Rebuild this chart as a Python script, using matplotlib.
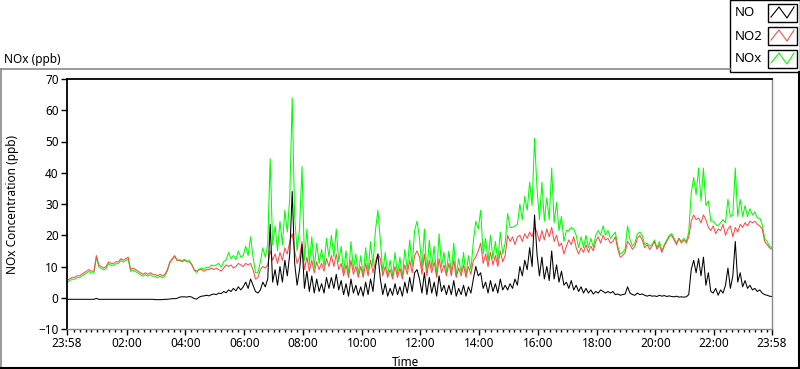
import numpy as np
import matplotlib.pyplot as plt
from matplotlib.lines import Line2D
from matplotlib.patches import Rectangle

plt.rcParams["font.family"] = ["Noto Sans", "DejaVu Sans"]
plt.rcParams["font.size"] = 9


# ==========================
# Data (5 min samples, from 23:58)
# ==========================

STEP_MIN = 5

NO2 = [
    5.5, 6.0, 6.5, 6.5, 7.0, 7.0, 7.5, 8.0, 8.5, 9.0, 8.5, 8.5,
    13.5, 10.5, 10.0, 9.5, 10.0, 11.5, 11.0, 11.0, 11.5, 11.5, 12.5, 12.0,
    12.5, 13.0, 9.0, 9.5, 9.0, 8.5, 8.0, 7.5, 8.0, 7.5, 8.0, 7.5,
    7.5, 7.0, 7.5, 7.0, 7.5, 9.0, 11.5, 12.5, 13.5, 12.0, 12.0, 11.5,
    12.0, 11.5, 11.5, 10.5, 9.0, 8.5, 9.0, 9.0, 8.5, 9.0, 9.0, 9.5,
    9.0, 9.5, 9.0, 8.5, 9.5, 10.5, 10.0, 10.5, 9.5, 10.0, 11.0, 10.5,
    10.0, 11.0, 10.5, 11.0, 9.0, 6.0, 6.5, 9.0, 10.0, 9.5, 10.5, 15.0,
    12.0, 14.0, 11.0, 14.5, 12.0, 16.0, 14.0, 18.0, 20.5, 15.0, 11.0, 13.0,
    18.0, 9.0, 13.0, 8.5, 12.0, 8.0, 11.5, 9.0, 11.0, 8.5, 12.5, 10.0,
    13.5, 10.0, 14.0, 9.0, 11.0, 7.0, 10.5, 6.5, 12.0, 7.5, 10.0, 6.5,
    10.0, 6.5, 11.0, 7.0, 12.0, 8.0, 11.5, 14.0, 12.5, 7.0, 10.0, 6.5,
    9.0, 6.0, 10.0, 6.5, 9.5, 6.0, 10.5, 7.5, 12.0, 8.0, 13.5, 15.0,
    13.0, 7.5, 14.0, 7.0, 12.0, 8.0, 11.5, 6.5, 12.5, 8.0, 10.5, 7.0,
    11.0, 7.0, 12.0, 6.5, 9.5, 7.0, 10.5, 6.5, 10.0, 7.5, 12.0, 13.0,
    15.0, 17.5, 11.0, 14.0, 10.0, 14.5, 10.5, 13.5, 10.0, 15.0, 11.5, 13.5,
    20.0, 18.0, 19.5, 17.0, 19.5, 20.0, 18.0, 20.5, 19.0, 21.0, 19.5, 22.5,
    21.0, 18.0, 21.5, 18.5, 22.0, 19.5, 22.5, 18.0, 20.0, 16.5, 17.5, 14.0,
    16.5, 18.5, 17.0, 19.5, 16.0, 14.0, 16.0, 14.5, 17.0, 14.5, 16.5, 15.0,
    18.0, 19.5, 17.5, 20.0, 18.5, 19.0, 17.5, 18.0, 19.5, 15.5, 13.0, 13.5,
    14.5, 18.0, 17.0, 15.5, 16.5, 19.0, 20.0, 18.5, 16.0, 17.0, 15.5, 16.5,
    18.0, 15.5, 17.0, 14.5, 16.5, 18.0, 19.5, 20.0, 18.5, 17.0, 19.0, 17.5,
    18.5, 17.5, 19.5, 24.5, 26.5, 25.0, 25.5, 24.0, 26.5, 25.0, 22.5, 21.5,
    23.0, 20.5, 22.0, 21.5, 23.5, 20.0, 22.0, 23.0, 19.5, 22.5, 21.0, 23.5,
    22.5, 24.0, 23.0, 24.5, 24.0, 24.5, 23.5, 23.0, 22.0, 18.0, 17.0, 16.0,
    15.5,
]

NO = [
    -0.5, -0.5, -0.5, -0.5, -0.5, -0.5, -0.5, -0.5, -0.5, -0.5, -0.5, -0.5,
    -0.2, -0.5, -0.5, -0.5, -0.5, -0.5, -0.5, -0.5, -0.5, -0.5, -0.5, -0.5,
    -0.5, -0.5, -0.5, -0.5, -0.5, -0.5, -0.5, -0.5, -0.5, -0.5, -0.5, -0.5,
    -0.6, -0.6, -0.6, -0.6, -0.5, -0.5, -0.4, -0.3, -0.3, -0.2, 0.2, 0.3,
    0.3, 0.2, 0.4, 0.2, -0.3, -0.4, 0.2, 0.5, 0.6, 0.8, 0.6, 1.0,
    1.2, 1.0, 1.5, 1.3, 2.0, 1.6, 2.5, 2.0, 3.0, 2.2, 3.5, 2.5,
    3.5, 5.0, 3.0, 6.0, 4.0, 2.0, 1.5, 2.5, 5.0, 3.5, 6.0, 23.5,
    5.0, 9.0, 4.0, 10.0, 5.0, 12.0, 7.0, 14.0, 34.0, 11.0, 4.0, 9.0,
    17.0, 3.0, 8.5, 2.0, 7.0, 1.5, 6.0, 2.0, 4.5, 1.5, 6.5, 3.0,
    6.5, 3.0, 7.5, 2.5, 5.5, 1.0, 4.5, 0.5, 6.0, 1.5, 4.0, 0.8,
    3.5, 0.5, 5.0, 1.0, 6.0, 2.0, 10.0, 14.0, 6.0, 1.0, 4.5, 0.5,
    3.0, 0.8, 4.5, 1.0, 3.5, 0.5, 5.0, 1.5, 6.5, 2.0, 8.0, 9.0,
    6.0, 1.5, 8.0, 1.0, 6.5, 1.5, 5.0, 0.5, 7.0, 2.0, 4.0, 1.0,
    4.0, 1.0, 5.5, 0.5, 3.0, 1.0, 4.0, 0.5, 3.5, 1.5, 6.0, 10.0,
    7.0, 8.0, 3.0, 5.0, 1.5, 5.5, 2.0, 4.5, 1.5, 6.0, 2.5, 4.0,
    2.5, 4.5, 3.0, 6.0, 4.0, 10.0, 7.0, 12.0, 9.0, 16.0, 10.0, 26.5,
    14.0, 7.0, 13.0, 6.0, 10.0, 5.5, 15.0, 6.0, 10.5, 5.0, 8.5, 4.0,
    5.0, 3.0, 5.5, 2.5, 4.0, 2.0, 3.5, 1.5, 3.0, 1.5, 2.5, 1.2,
    2.0, 1.5, 2.5, 2.0, 1.5, 2.0, 1.5, 2.0, 1.0, 1.2, 0.8, 1.0,
    1.2, 3.5, 1.5, 1.0, 0.8, 1.5, 1.0, 1.2, 0.8, 0.5, 0.8, 0.5,
    0.6, 0.4, 0.8, 0.5, 0.7, 0.4, 0.6, 0.4, 0.3, 0.5, 0.2, 0.3,
    0.2, 0.3, 1.0, 9.0, 12.0, 8.0, 12.5, 7.0, 13.0, 4.0, 8.0, 2.0,
    1.5, 3.0, 0.8, 2.5, 1.5, 4.0, 9.5, 3.0, 7.0, 18.0, 5.0, 8.0,
    3.5, 5.5, 3.0, 4.0, 2.5, 3.0, 2.0, 2.5, 1.5, 1.0, 0.8, 0.5,
    0.4,
]

NOX = [
    4.9, 5.4, 5.9, 5.9, 6.4, 6.4, 6.9, 7.4, 7.9, 8.4, 7.9, 7.9,
    12.9, 9.9, 9.4, 8.9, 9.4, 10.9, 10.4, 10.4, 10.9, 10.9, 11.9, 11.4,
    11.9, 12.4, 8.4, 8.9, 8.4, 7.9, 7.4, 6.9, 7.4, 6.9, 7.4, 6.9,
    6.9, 6.4, 6.9, 6.4, 7.0, 8.5, 11.1, 12.2, 13.2, 11.8, 12.2, 11.8,
    12.3, 11.7, 11.9, 10.7, 8.7, 8.1, 9.2, 9.5, 9.1, 9.8, 9.6, 10.5,
    10.2, 10.5, 11.0, 9.8, 11.5, 12.1, 14.5, 12.5, 13.5, 12.2, 15.0, 13.0,
    13.5, 16.5, 13.5, 19.5, 13.0, 8.0, 8.0, 11.5, 16.0, 13.0, 17.0, 44.5,
    17.0, 23.0, 15.0, 24.5, 17.0, 28.0, 21.0, 32.0, 64.0, 26.0, 15.0, 22.0,
    42.0, 12.0, 22.0, 10.5, 19.5, 9.5, 17.5, 11.0, 15.5, 10.0, 19.0, 13.0,
    20.0, 13.0, 22.0, 11.5, 16.5, 8.0, 15.0, 7.0, 18.0, 9.0, 14.0, 7.5,
    13.5, 7.0, 16.0, 8.0, 18.0, 10.0, 21.5, 28.0, 18.5, 8.0, 14.5, 7.0,
    12.0, 7.0, 14.5, 7.5, 13.0, 6.5, 15.5, 9.0, 18.5, 10.0, 21.5, 24.5,
    19.0, 9.0, 22.0, 8.0, 18.5, 9.5, 16.5, 7.0, 20.5, 10.0, 14.5, 8.0,
    15.0, 8.0, 17.5, 7.0, 12.5, 8.0, 14.5, 7.0, 13.5, 9.0, 18.0, 24.5,
    22.0, 28.0, 14.0, 19.0, 11.5, 20.0, 12.5, 18.0, 11.5, 21.0, 14.0, 17.5,
    27.0, 22.5, 22.5, 23.0, 23.5, 30.0, 25.0, 32.5, 28.0, 37.0, 29.5, 51.0,
    35.0, 25.0, 37.0, 24.5, 32.0, 25.0, 41.5, 24.0, 30.5, 21.5, 26.0, 18.0,
    21.5, 21.5, 22.5, 22.0, 20.0, 16.0, 19.5, 16.0, 20.0, 16.0, 19.0, 16.2,
    20.0, 21.5, 20.0, 23.0, 20.0, 21.5, 19.0, 20.0, 21.0, 16.5, 14.0, 14.5,
    15.5, 23.0, 18.5, 16.5, 17.5, 20.5, 21.0, 20.0, 17.0, 17.5, 16.5, 17.0,
    18.5, 16.0, 18.0, 15.0, 17.0, 18.5, 20.0, 20.5, 19.0, 17.5, 19.0, 18.0,
    19.0, 18.0, 21.0, 33.5, 38.5, 33.0, 41.5, 31.0, 41.5, 29.5, 31.0, 24.5,
    24.5, 23.5, 23.0, 24.0, 25.0, 24.0, 31.5, 26.0, 26.5, 41.5, 26.0, 31.5,
    26.0, 29.5, 26.0, 28.5, 26.5, 27.5, 25.5, 25.5, 23.5, 19.0, 18.0, 16.5,
    16.0,
]

TICK_LABELS = ["23:58", "02:00", "04:00", "06:00", "08:00", "10:00", "12:00",
               "14:00", "16:00", "18:00", "20:00", "22:00", "23:58"]

YTICKS = [-10, 0, 10, 20, 30, 40, 50, 60, 70]


# ==========================
# Figure
# ==========================

W, H = 800, 369
fig = plt.figure(figsize=(W / 100, H / 100), dpi=100)
fig.patch.set_facecolor("white")

def fx(px):
    return px / W

def fy(py):
    return 1 - py / H

ax = fig.add_axes([fx(67), fy(329), fx(772) - fx(67), fy(79) - fy(329)])

time_h = np.arange(len(NO2)) * STEP_MIN / 60.0

ax.plot(time_h, NOX, color="#00FF00", linewidth=0.75)
ax.plot(time_h, NO2, color="#FF4A4A", linewidth=0.75)
ax.plot(time_h, NO, color="black", linewidth=0.75)

ax.set_xlim(0, 24)
ax.set_ylim(-10, 70)

# x ticks: 23:58 start, then every 2 h on clock time
major_pos = [0] + [h + 2 / 60 for h in range(2, 24, 2)] + [24]
ax.set_xticks(major_pos)
ax.set_xticklabels(TICK_LABELS)
minor_pos = [(m + 2) / 60 for m in range(12, 1440, 12) if m % 120 != 0]
ax.set_xticks(minor_pos, minor=True)

ax.set_yticks(YTICKS)

ax.tick_params(axis="both", which="major", direction="out", length=4,
               width=1, labelsize=8.5, pad=2, colors="black")
ax.tick_params(axis="x", which="minor", direction="out", length=2, width=1)

for side in ["left", "top"]:
    ax.spines[side].set_color("black")
    ax.spines[side].set_linewidth(1.3)
for side in ["right", "bottom"]:
    ax.spines[side].set_color("#8a8a8a")
    ax.spines[side].set_linewidth(1.0)

ax.set_xlabel("Time", fontsize=8.5)
ax.xaxis.set_label_coords(0.48, -0.11)
ax.set_ylabel("NOx Concentration (ppb)", fontsize=8.5)
ax.yaxis.set_label_coords(-0.068, 0.5)


# ==========================
# Panel frame and titles
# ==========================

fig.add_artist(Line2D([fx(0), fx(730)], [fy(69), fy(69)], color="#8a8a8a",
                      linewidth=1.2, transform=fig.transFigure))
fig.add_artist(Line2D([fx(0.5), fx(0.5)], [fy(69), fy(369)], color="#8a8a8a",
                      linewidth=1.2, transform=fig.transFigure))
fig.add_artist(Line2D([fx(0), fx(800)], [fy(368), fy(368)], color="black",
                      linewidth=1.5, transform=fig.transFigure))
fig.add_artist(Line2D([fx(799), fx(799)], [fy(72), fy(369)], color="black",
                      linewidth=1.5, transform=fig.transFigure))

fig.text(fx(4), fy(60), "NOx (ppb)", fontsize=8.5, va="center", ha="left")


# ==========================
# Legend (LabVIEW style)
# ==========================

fig.add_artist(Rectangle((fx(730), fy(72)), fx(800) - fx(730), fy(0) - fy(72),
                         facecolor="white", edgecolor="black", linewidth=1.0,
                         transform=fig.transFigure))

legend_items = [("NO", "black"), ("NO2", "#FF4A4A"), ("NOx", "#00FF00")]
for i, (name, col) in enumerate(legend_items):
    yc = 13 + i * 23
    fig.text(fx(735), fy(yc), name, fontsize=9.5, va="center", ha="left")
    fig.add_artist(Rectangle((fx(768), fy(yc + 9)), fx(797) - fx(768),
                             fy(yc - 9) - fy(yc + 9), facecolor="white",
                             edgecolor="black", linewidth=1.0,
                             transform=fig.transFigure))
    zx = [771, 779, 787, 794]
    zy = [yc + 4, yc - 6, yc + 5, yc - 6]
    fig.add_artist(Line2D([fx(v) for v in zx], [fy(v) for v in zy],
                          color=col, linewidth=0.8,
                          transform=fig.transFigure))

fig.savefig("out.png", dpi=100)
